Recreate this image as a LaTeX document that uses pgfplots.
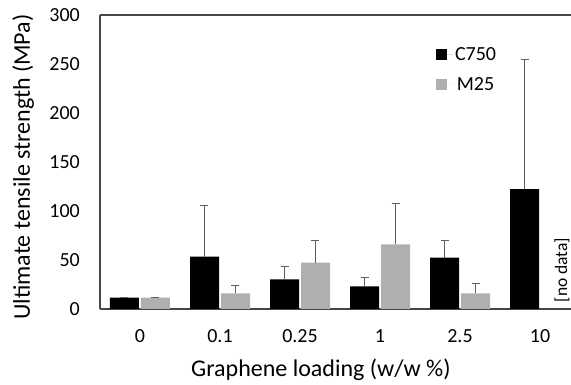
\documentclass[border=0pt]{standalone}
\usepackage{fontspec}
\setmainfont{Carlito}
\usepackage{pgfplots}
\usepackage{pgfplotstable}
\usetikzlibrary{calc}
\pgfplotsset{compat=1.18}
\definecolor{mgray}{RGB}{175,175,175}
\definecolor{ebar}{RGB}{95,95,95}
\definecolor{axgray}{RGB}{70,70,70}
\pgfplotstableread{
x y e
0 11.5 0.5
1 53.4 52.4
2 30.3 12.9
3 23.1 8.9
4 52.4 17.7
5 122.4 132.4
}\cdata
\pgfplotstableread{
x y e
0 11.5 0.4
1 16.0 8.2
2 47.3 22.4
3 66.0 41.5
4 16.0 10.5
}\mdata
\begin{document}
\begin{tikzpicture}
\begin{axis}[
  scale only axis, width=471pt, height=294pt,
  xmin=-0.5, xmax=5.3875, ymin=0, ymax=300,
  axis lines*=left,
  axis line style={line width=1.1pt, axgray},
  ytick={0,50,...,300},
  xtick={0,...,5}, xticklabels={0,0.1,0.25,1,2.5,10},
  major tick length=0,
  /pgf/number format/assume math mode=true,
  tick label style={font=\fontsize{20}{24}\selectfont, inner sep=0pt},
  yticklabel style={anchor=east, xshift=-20pt},
  xticklabel style={anchor=base, yshift=-34pt},
  ylabel={Ultimate tensile strength (MPa)},
  every axis y label/.style={at={(rel axis cs:0,0.483)}, rotate=90, anchor=base, yshift=70pt, font=\fontsize{24}{28}\selectfont},
  xlabel={Graphene loading (w/w \%)},
  every axis x label/.style={at={(rel axis cs:0.469,0)}, anchor=base, yshift=-68pt, font=\fontsize{24}{28}\selectfont},
  ybar, bar width=29pt,
  legend style={at={(rel axis cs:0.713,0.898)}, anchor=north west, draw=none, fill=none,
    font=\fontsize{20}{24}\selectfont, row sep=12pt, inner sep=0pt},
  legend image code/.code={\path (0pt,0pt) -- (17pt,0pt); \fill[#1] (0pt,-5.5pt) rectangle (11pt,5.5pt);},
  clip=false,
]
\addplot[fill=black, draw=none, bar shift=-15.5pt,
  error bars/.cd, y dir=plus, y explicit,
  error bar style={line width=0.9pt, ebar},
  error mark options={rotate=90, mark size=4pt, line width=0.9pt, ebar}]
  table[x=x, y=y, y error=e] {\cdata};
\addlegendentry{C750}
\addplot[fill=mgray, draw=none, bar shift=15.5pt,
  error bars/.cd, y dir=plus, y explicit,
  error bar style={line width=0.9pt, ebar},
  error mark options={rotate=90, mark size=4pt, line width=0.9pt, ebar}]
  table[x=x, y=y, y error=e] {\mdata};
\addlegendentry{M25}
\draw[line width=1.1pt, axgray] (rel axis cs:0,1) -- (rel axis cs:1,1);
\node[rotate=90, font=\fontsize{17.5}{20}\selectfont, inner sep=0pt] at (axis cs:5.275,39.8) {[no data]};
\coordinate (ll) at (rel axis cs:0,0);
\end{axis}
\pgfresetboundingbox
\path[use as bounding box] ($(ll)+(-100pt,-76pt)$) rectangle ($(ll)+(471pt,309pt)$);
\end{tikzpicture}
\end{document}
